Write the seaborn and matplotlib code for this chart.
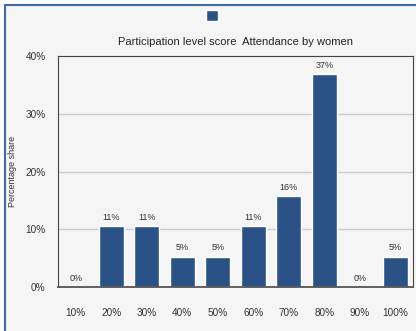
import matplotlib
matplotlib.use("Agg")
import matplotlib.pyplot as plt
from matplotlib.patches import Patch
from matplotlib.lines import Line2D
import seaborn as sns
import pandas as pd

# Participation level score categories and share of respondents (%)
levels = ["10%", "20%", "30%", "40%", "50%", "60%", "70%", "80%", "90%", "100%"]
share = [0.0, 10.53, 10.53, 5.26, 5.26, 10.53, 15.79, 36.84, 0.0, 5.26]
y_ticks = [0, 10, 20, 30, 40]
y_tick_labels = ["0%", "10%", "20%", "30%", "40%"]

title = "Participation level score  Attendance by women"
y_label = "Percentage share"

bar_color = "#2b5286"
bg = "#f5f5f5"
text_color = "#333333"

sns.set_theme(style="white")
plt.rcParams["font.family"] = ["Liberation Sans", "DejaVu Sans"]

df = pd.DataFrame({"level": levels, "share": share})

fig = plt.figure(figsize=(4.16, 3.31), dpi=100)
fig.patch.set_facecolor("white")
# light panel background framed by a blue edge on the top and left
fig.patches.append(plt.Rectangle((5 / 416, 0), 1, 1 - 5 / 331,
                                 transform=fig.transFigure, facecolor=bg,
                                 edgecolor="none", zorder=-10))
fig.add_artist(Line2D([5 / 416, 1], [1 - 5 / 331, 1 - 5 / 331],
                      transform=fig.transFigure, color="#3d6aa9", lw=1.5))
fig.add_artist(Line2D([5 / 416, 5 / 416], [0, 1 - 5 / 331],
                      transform=fig.transFigure, color="#3d6aa9", lw=1.5))

ax = fig.add_axes([58 / 416, 1 - 287 / 331, 355 / 416, 231 / 331])
ax.set_facecolor(bg)

sns.barplot(data=df, x="level", y="share", color=bar_color, width=0.7,
            saturation=1, ax=ax, zorder=3)

ax.set_xlim(-0.5, len(levels) - 0.5)
ax.set_ylim(0, 40)
ax.set_yticks(y_ticks)
ax.set_yticklabels(y_tick_labels)
ax.tick_params(axis="y", length=0, pad=9, labelsize=7.2, labelcolor=text_color)
ax.tick_params(axis="x", length=0, pad=15, labelsize=7.2, labelcolor=text_color)
ax.set_xlabel("")
ax.set_ylabel(y_label, fontsize=6.5, color=text_color)
ax.yaxis.set_label_coords(-41 / 355, 0.5)

for v in [10, 20, 30]:
    ax.axhline(v, color="#cccccc", lw=1, zorder=1)

for side in ["top", "left", "right"]:
    ax.spines[side].set_color("#444444")
    ax.spines[side].set_linewidth(0.8)
ax.spines["bottom"].set_color("#555555")
ax.spines["bottom"].set_linewidth(1.3)
ax.spines["bottom"].set_zorder(4)

ax.bar_label(ax.containers[0], labels=[f"{round(v)}%" for v in share],
             padding=3, fontsize=6.5, color=text_color)

ax.set_title(title, fontsize=8, color="#222222", pad=8)

ax.legend(handles=[Patch(facecolor=bar_color)], labels=[""],
          loc="center", bbox_to_anchor=(212 / 416, 1 - 17 / 331),
          bbox_transform=fig.transFigure, frameon=False,
          handlelength=0.75, handleheight=0.75, handletextpad=0,
          borderpad=0)

fig.savefig("out.png", dpi=100, facecolor=fig.get_facecolor())
